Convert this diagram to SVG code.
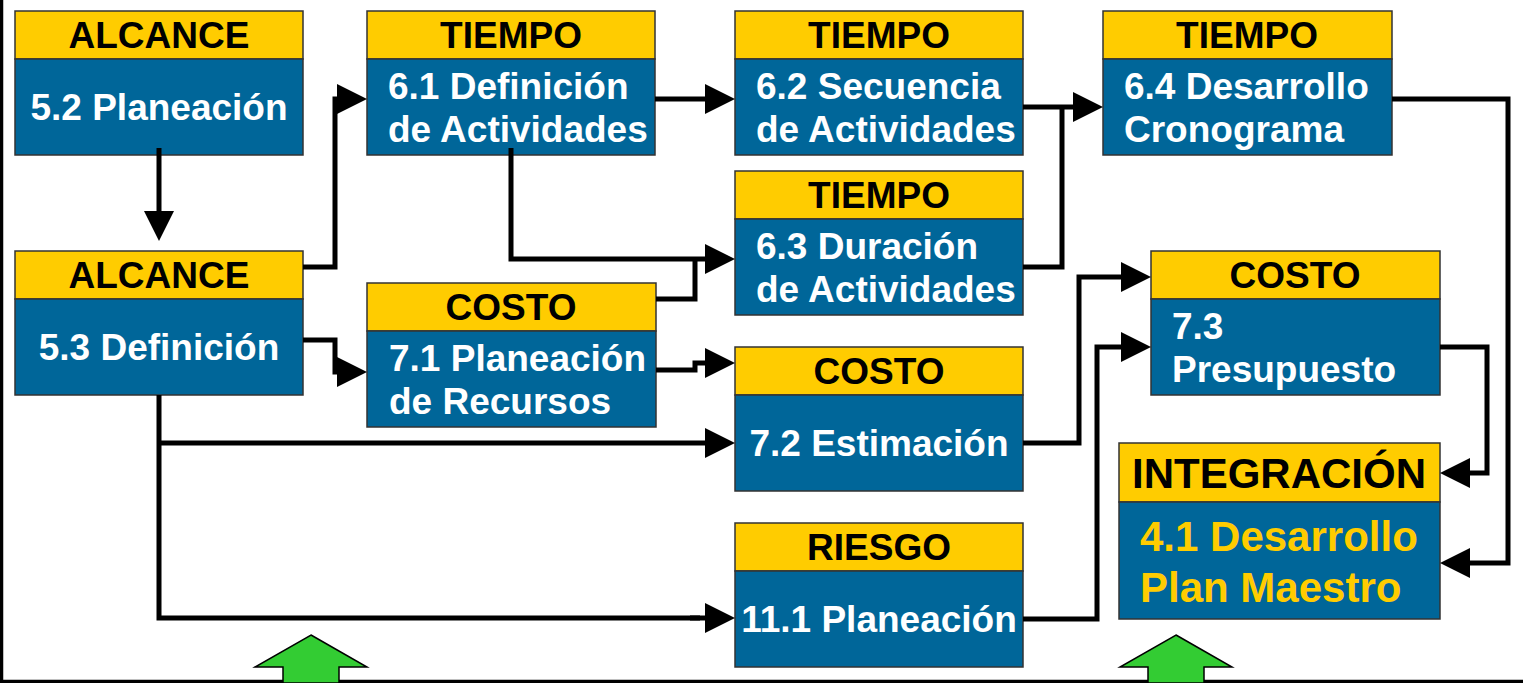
<svg xmlns="http://www.w3.org/2000/svg" width="1523" height="683" viewBox="0 0 1523 683">
<style>
.hd{fill:#FFCC00;stroke:#333;stroke-width:1.5}
.bd{fill:#006699;stroke:#333;stroke-width:1.5}
.ht{font-family:"Liberation Sans",Arial,sans-serif;font-weight:bold;font-size:37px;fill:#000;text-anchor:middle}
.bt{font-family:"Liberation Sans",Arial,sans-serif;font-weight:bold;font-size:37px;fill:#fff}
.c{text-anchor:middle}
.big{font-size:42px}
.gold{fill:#FFCC00}
.cn{fill:none;stroke:#000;stroke-width:5;marker-end:url(#ah)}
.cl{fill:none;stroke:#000;stroke-width:5}
.green{fill:#33CC33;stroke:#000;stroke-width:1.5}
</style>
<defs>
<marker id="ah" markerUnits="userSpaceOnUse" markerWidth="30" markerHeight="30" refX="5" refY="15" orient="auto" viewBox="0 0 30 30">
<path d="M0,0 L30,15 L0,30 z" fill="#000"/>
</marker>
</defs>
<rect width="1523" height="683" fill="#fff"/>
<g id="frame"><path d="M1.5,0 V681.5 H1523" fill="none" stroke="#000" stroke-width="3.5"/></g>

<g id="n52"><rect class="hd" x="15" y="11" width="288" height="48"/><rect class="bd" x="15" y="59" width="288" height="96"/>
<text class="ht" x="159" y="48">ALCANCE</text><text class="bt c" x="159" y="120">5.2 Planeación</text></g>

<g id="n53"><rect class="hd" x="15" y="251" width="288" height="48"/><rect class="bd" x="15" y="299" width="288" height="96"/>
<text class="ht" x="159" y="288">ALCANCE</text><text class="bt c" x="159" y="360">5.3 Definición</text></g>

<g id="n61"><rect class="hd" x="367" y="11" width="288" height="48"/><rect class="bd" x="367" y="59" width="288" height="96"/>
<text class="ht" x="511" y="48">TIEMPO</text><text class="bt" x="388" y="99">6.1 Definición</text><text class="bt" x="388" y="142">de Actividades</text></g>

<g id="n62"><rect class="hd" x="735" y="11" width="288" height="48"/><rect class="bd" x="735" y="59" width="288" height="96"/>
<text class="ht" x="879" y="48">TIEMPO</text><text class="bt" x="756" y="99">6.2 Secuencia</text><text class="bt" x="756" y="142">de Actividades</text></g>

<g id="n64"><rect class="hd" x="1103" y="11" width="289" height="48"/><rect class="bd" x="1103" y="59" width="289" height="96"/>
<text class="ht" x="1247" y="48">TIEMPO</text><text class="bt" x="1124" y="99">6.4 Desarrollo</text><text class="bt" x="1124" y="142">Cronograma</text></g>

<g id="n63"><rect class="hd" x="735" y="171" width="288" height="48"/><rect class="bd" x="735" y="219" width="288" height="96"/>
<text class="ht" x="879" y="208">TIEMPO</text><text class="bt" x="756" y="259">6.3 Duración</text><text class="bt" x="756" y="302">de Actividades</text></g>

<g id="n71"><rect class="hd" x="367" y="283" width="289" height="48"/><rect class="bd" x="367" y="331" width="289" height="96"/>
<text class="ht" x="511" y="320">COSTO</text><text class="bt" x="389" y="371">7.1 Planeación</text><text class="bt" x="389" y="414">de Recursos</text></g>

<g id="n72"><rect class="hd" x="735" y="347" width="288" height="48"/><rect class="bd" x="735" y="395" width="288" height="96"/>
<text class="ht" x="879" y="384">COSTO</text><text class="bt c" x="879" y="456">7.2 Estimación</text></g>

<g id="n73"><rect class="hd" x="1151" y="251" width="289" height="48"/><rect class="bd" x="1151" y="299" width="289" height="96"/>
<text class="ht" x="1295" y="288">COSTO</text><text class="bt" x="1172" y="339">7.3</text><text class="bt" x="1172" y="382">Presupuesto</text></g>

<g id="n111"><rect class="hd" x="735" y="523" width="288" height="48"/><rect class="bd" x="735" y="571" width="288" height="96"/>
<text class="ht" x="879" y="560">RIESGO</text><text class="bt c" x="879" y="632">11.1 Planeación</text></g>

<g id="n41"><rect class="hd" x="1119" y="443" width="321" height="59"/><rect class="bd" x="1119" y="502" width="321" height="117"/>
<text class="ht big" x="1279" y="488">INTEGRACIÓN</text><text class="bt big gold" x="1140" y="551">4.1 Desarrollo</text><text class="bt big gold" x="1140" y="602">Plan Maestro</text></g>

<g id="inputs">
<polygon class="green" points="311,635 367,667 339,667 339,683 283,683 283,667 255,667"/>
<polygon class="green" points="1176,635 1232,667 1204,667 1204,683 1148,683 1148,667 1120,667"/>
</g>

<g id="connectors">
<path class="cn" d="M159,148 V216"/>
<path class="cn" d="M303,267 H335 V99 H342"/>
<path class="cn" d="M303,340 H335 V372 H342"/>
<path class="cn" d="M655,99 H710"/>
<path class="cn" d="M511,148 V259 H710"/>
<path class="cl" d="M656,299 H695 V259"/>
<path class="cn" d="M1023,107 H1078"/>
<path class="cl" d="M1023,267 H1062 V107"/>
<path class="cn" d="M656,370 H695 V363 H710"/>
<path class="cl" d="M159,395 V618 H700"/>
<path class="cn" d="M690,618 H710"/>
<path class="cn" d="M159,443 H710"/>
<path class="cn" d="M1023,443 H1079 V277 H1126"/>
<path class="cn" d="M1023,619 H1097 V347 H1126"/>
<path class="cn" d="M1440,347 H1487 V473 H1465"/>
<path class="cn" d="M1392,99 H1508 V563 H1465"/>
</g>
</svg>
